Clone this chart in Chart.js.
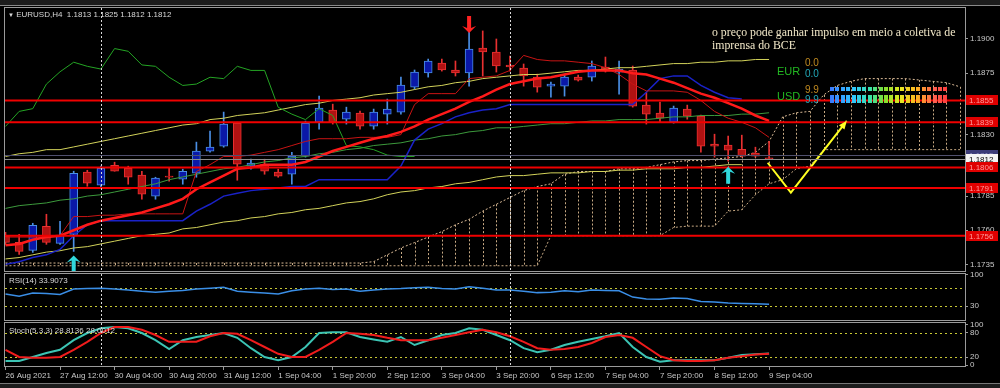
<!DOCTYPE html>
<html lang="pt">
<head>
<meta charset="UTF-8">
<title>EURUSD,H4</title>
<script src="https://cdn.jsdelivr.net/npm/chart.js"></script>
<style>
  html, body { margin: 0; padding: 0; background: #000; }
  body { width: 1000px; height: 388px; position: relative; overflow: hidden; font-family: "Liberation Sans", Arial, sans-serif; }
  canvas { position: absolute; left: 0; }
  #cMain { top: 0; }
  #cRsi { top: 272px; }
  #cStoch { top: 321px; }
  .txt { position: absolute; white-space: nowrap; color: #d8d8d8; font-size: 8px; line-height: 10px; }
  .note { position: absolute; left: 712px; color: #f2e8c8; font-family: "Liberation Serif", serif; font-size: 11.8px; line-height: 13px; white-space: nowrap; }
  .meter { position: absolute; font-size: 11px; line-height: 11px; white-space: nowrap; }
  .strength { position: absolute; left: 830px; width: 118px;
    background: linear-gradient(to right, #3a78ff, #30c8ff 20%, #38e0a8 34%, #80e030 46%, #e8e820 60%, #ffb020 74%, #ff6050 88%, #ff3a3a);
    -webkit-mask-image: repeating-linear-gradient(to right, #000 0 4px, transparent 4px 5.4px);
    mask-image: repeating-linear-gradient(to right, #000 0 4px, transparent 4px 5.4px); }
  #topStrip { position: absolute; left: 0; top: 0; width: 1000px; height: 5px; background: #1c1c1c; border-bottom: 1px solid #8a8a8a; }
  #botStrip { position: absolute; left: 0; top: 383px; width: 1000px; height: 5px; background: #1c1c1c; border-top: 1px solid #777; }
</style>
</head>
<body>
<div id="topStrip"></div>
<canvas id="cMain" width="1000" height="272"></canvas>
<canvas id="cRsi" width="1000" height="49"></canvas>
<canvas id="cStoch" width="1000" height="67"></canvas>
<div id="botStrip"></div>

<div class="txt" style="left:8px;top:10px"><span style="font-size:6px">▼</span> EURUSD,H4&nbsp; 1.1813 1.1825 1.1812 1.1812</div>
<div class="txt" style="left:9px;top:276px">RSI(14) 33.9073</div>
<div class="txt" style="left:9px;top:326px">Stoch(5,3,3) 28.8136 28.0012</div>

<div class="note" style="top:26px">o preço pode ganhar impulso em meio a coletiva de</div>
<div class="note" style="top:39px">imprensa do BCE</div>

<div class="meter" style="left:777px;top:66px;color:#22b822">EUR</div>
<div class="meter" style="left:805px;top:57px;color:#c08a20;font-size:10px">0.0</div>
<div class="meter" style="left:805px;top:68px;color:#22a8b8;font-size:10px">0.0</div>
<div class="meter" style="left:777px;top:91px;color:#22b822">USD</div>
<div class="meter" style="left:805px;top:84px;color:#c08a20;font-size:10px">9.9</div>
<div class="meter" style="left:805px;top:94px;color:#22a8b8;font-size:10px">9.9</div>
<div class="strength" style="top:87px;height:4px"></div>
<div class="strength" style="top:95px;height:8px"></div>

<script>
// ---- time axis (H4 bars, index 0 = 26 Aug 20:00) ----
const timeTickIdx = [0, 4, 8, 12, 16, 20, 24, 28, 32, 36, 40, 44, 48, 52, 56];
const timeLabels = ['26 Aug 2021', '27 Aug 12:00', '30 Aug 04:00', '30 Aug 20:00', '31 Aug 12:00',
  '1 Sep 04:00', '1 Sep 20:00', '2 Sep 12:00', '3 Sep 04:00', '3 Sep 20:00',
  '6 Sep 12:00', '7 Sep 04:00', '7 Sep 20:00', '8 Sep 12:00', '9 Sep 04:00'];

// ---- candles ----
const opens = [1.17555,1.17511,1.17453,1.17629,1.17504,1.17570,1.18025,1.17930,1.18076,1.18054,
  1.18003,1.17849,1.17996,1.17974,1.18017,1.18179,1.18215,1.18384,1.18069,1.18083,
  1.18025,1.18010,1.18142,1.18391,1.18479,1.18413,1.18457,1.18362,1.18450,1.18465,
  1.18648,1.18751,1.18824,1.18773,1.18751,1.18934,1.18905,1.18809,1.18787,1.18721,
  1.18655,1.18655,1.18721,1.18721,1.18795,1.18758,1.18773,1.18516,1.18457,1.18391,
  1.18487,1.18435,1.18230,1.18223,1.18193,1.18164,1.18130];
const highs = [1.17585,1.17570,1.17651,1.17717,1.17665,1.18032,1.18039,1.18069,1.18098,1.18069,
  1.18032,1.17988,1.18054,1.18047,1.18245,1.18325,1.18465,1.18391,1.18120,1.18120,
  1.18047,1.18171,1.18399,1.18582,1.18523,1.18501,1.18472,1.18487,1.18560,1.18721,
  1.18773,1.18853,1.18853,1.18839,1.19059,1.19059,1.19000,1.18875,1.18817,1.18743,
  1.18685,1.18743,1.18736,1.18839,1.18868,1.18839,1.18802,1.18611,1.18538,1.18509,
  1.18516,1.18443,1.18303,1.18289,1.18296,1.18208,1.18250];
const lows = [1.17497,1.17423,1.17438,1.17497,1.17497,1.17445,1.17922,1.17915,1.18032,1.17937,
  1.17827,1.17827,1.17959,1.17937,1.17988,1.18171,1.18208,1.17966,1.18047,1.18010,
  1.17988,1.17937,1.18135,1.18340,1.18377,1.18377,1.18340,1.18340,1.18377,1.18450,
  1.18633,1.18721,1.18765,1.18729,1.18655,1.18729,1.18758,1.18765,1.18655,1.18611,
  1.18575,1.18582,1.18692,1.18692,1.18758,1.18597,1.18501,1.18377,1.18391,1.18384,
  1.18413,1.18171,1.18135,1.18105,1.18135,1.18135,1.18120];
const closes = [1.17511,1.17445,1.17636,1.17511,1.17563,1.18017,1.17944,1.18054,1.18032,1.17988,
  1.17864,1.17981,1.17988,1.18032,1.18179,1.18208,1.18377,1.18083,1.18091,1.18032,
  1.17996,1.18142,1.18384,1.18494,1.18391,1.18465,1.18362,1.18465,1.18487,1.18663,
  1.18758,1.18839,1.18773,1.18751,1.18927,1.18905,1.18802,1.18795,1.18729,1.18648,
  1.18670,1.18721,1.18699,1.18802,1.18773,1.18780,1.18509,1.18450,1.18421,1.18494,
  1.18435,1.18215,1.18215,1.18186,1.18142,1.18142,1.18120];

// ---- indicator lines on price ----
const maRed = [1.1749,1.1750,1.1753,1.1755,1.1756,1.1760,1.1764,1.1767,1.1769,1.1771,
  1.1773,1.1776,1.1779,1.1783,1.1790,1.1795,1.1800,1.1805,1.1806,1.1808,
  1.1808,1.1808,1.1810,1.1814,1.1818,1.1821,1.1824,1.1827,1.1829,1.1832,
  1.1836,1.1841,1.1845,1.1849,1.1854,1.1858,1.1863,1.1867,1.1869,1.1871,
  1.1872,1.1874,1.1876,1.1877,1.1877,1.1877,1.1875,1.1874,1.1871,1.1868,
  1.1864,1.1860,1.1857,1.1853,1.1849,1.1844,1.1840];
const tenkan = [1.1755,1.1755,1.1755,1.1755,1.1756,1.1770,1.1770,1.1771,1.1771,1.1772,
  1.1772,1.1772,1.1772,1.1772,1.1803,1.1808,1.1814,1.1814,1.1815,1.1817,
  1.1819,1.1822,1.1825,1.1827,1.1827,1.1827,1.1828,1.1828,1.1828,1.1830,
  1.1852,1.1860,1.1860,1.1860,1.1871,1.1872,1.1873,1.1877,1.1888,1.1885,
  1.1884,1.1884,1.1883,1.1882,1.1879,1.1874,1.1867,1.1862,1.1862,1.1862,
  1.1861,1.1855,1.1847,1.1842,1.1839,1.1835,1.1828];
const kijun = [1.1735,1.1737,1.1740,1.1742,1.1746,1.1756,1.1764,1.1767,1.1767,1.1767,
  1.1767,1.1767,1.1767,1.1767,1.1774,1.1779,1.1785,1.1787,1.1789,1.1790,
  1.1791,1.1792,1.1792,1.1797,1.1797,1.1797,1.1797,1.1797,1.1797,1.1807,
  1.1826,1.1834,1.1838,1.1843,1.1846,1.1848,1.1849,1.1852,1.1852,1.1852,
  1.1852,1.1852,1.1852,1.1852,1.1852,1.1852,1.1852,1.1861,1.1871,1.1873,
  1.1873,1.1866,1.1861,1.1857,1.1856];
const chikou = [1.1836,1.1847,1.1849,1.1867,1.1876,1.1883,1.1880,1.1878,1.1893,1.1891,
  1.1881,1.1880,1.1872,1.1866,1.1867,1.1872,1.1871,1.1880,1.1877,1.1877,
  1.1850,1.1845,1.1841,1.1849,1.1844,1.1822,1.1821,1.1819,1.1815,1.1814,1.1814];
const yellowUpper = [1.1814,1.1816,1.1817,1.1819,1.1819,1.1821,1.1823,1.1825,1.1827,1.1829,
  1.1831,1.1833,1.1835,1.1837,1.1838,1.1841,1.1842,1.1844,1.1845,1.1846,
  1.1848,1.1850,1.1852,1.1853,1.1855,1.1856,1.1857,1.1859,1.1860,1.1861,
  1.1863,1.1865,1.1866,1.1868,1.1869,1.1871,1.1872,1.1873,1.1874,1.1874,
  1.1875,1.1876,1.1877,1.1877,1.1878,1.1879,1.1879,1.1880,1.1881,1.1882,
  1.1882,1.1883,1.1883,1.1884,1.1884,1.1885,1.1885];
const yellowLower = [1.1739,1.1740,1.1742,1.1744,1.1745,1.1747,1.1748,1.1750,1.1752,1.1754,
  1.1756,1.1757,1.1758,1.1761,1.1762,1.1764,1.1766,1.1767,1.1769,1.1770,
  1.1772,1.1773,1.1775,1.1776,1.1778,1.1780,1.1781,1.1783,1.1786,1.1788,
  1.1789,1.1791,1.1792,1.1794,1.1795,1.1797,1.1799,1.1800,1.1800,1.1801,
  1.1802,1.1802,1.1802,1.1803,1.1803,1.1804,1.1804,1.1805,1.1805,1.1805,
  1.1806,1.1806,1.1807,1.1808,1.1808];
const greenMa = [1.1776,1.1778,1.1779,1.1780,1.1782,1.1783,1.1785,1.1786,1.1788,1.1790,
  1.1792,1.1794,1.1797,1.1799,1.1801,1.1803,1.1805,1.1806,1.1808,1.1810,
  1.1811,1.1813,1.1814,1.1816,1.1817,1.1819,1.1820,1.1822,1.1823,1.1824,
  1.1826,1.1827,1.1829,1.1830,1.1832,1.1833,1.1835,1.1835,1.1836,1.1837,
  1.1838,1.1838,1.1839,1.1840,1.1840,1.1841,1.1841,1.1841,1.1842,1.1843,
  1.1843,1.1844,1.1844,1.1844,1.1845,1.1845,1.1846];

// ---- ichimoku cloud (index 0..70) ----
const spanA = [1.1736,1.1736,1.1736,1.1736,1.1736,1.1736,1.1736,1.1736,1.1736,1.1736,
  1.1736,1.1736,1.1736,1.1736,1.1736,1.1736,1.1736,1.1736,1.1736,1.1736,
  1.1736,1.1736,1.1736,1.1736,1.1736,1.1736,1.1736,1.1737,1.1742,1.1747,
  1.1751,1.1755,1.1759,1.1764,1.1768,1.1774,1.1779,1.1784,1.1789,1.1792,
  1.1794,1.1801,1.1803,1.1803,1.1803,1.1805,1.1805,1.1806,1.1808,1.1810,
  1.1811,1.1811,1.1812,1.1813,1.1814,1.1817,1.1825,1.1843,1.1846,1.1847,
  1.1859,1.1866,1.1869,1.1871,1.1871,1.1871,1.1871,1.1870,1.1869,1.1868,1.1865];
const spanB = [1.1734,1.1734,1.1734,1.1734,1.1734,1.1734,1.1734,1.1734,1.1734,1.1734,
  1.1734,1.1734,1.1734,1.1734,1.1734,1.1734,1.1734,1.1734,1.1734,1.1734,
  1.1734,1.1734,1.1734,1.1734,1.1734,1.1734,1.1734,1.1734,1.1734,1.1734,
  1.1734,1.1734,1.1734,1.1734,1.1734,1.1734,1.1734,1.1734,1.1734,1.1734,
  1.1756,1.1756,1.1756,1.1756,1.1756,1.1756,1.1756,1.1756,1.1756,1.1762,
  1.1763,1.1763,1.1763,1.1774,1.1775,1.1786,1.1794,1.1797,1.1805,1.1807,
  1.1819,1.1819,1.1819,1.1819,1.1819,1.1819,1.1819,1.1819,1.1819,1.1819,1.1819];

// ---- objects ----
const priceTicks = [1.1900, 1.1875, 1.1830, 1.1785, 1.1760, 1.1735];
const levels = [1.1855, 1.1839, 1.1806, 1.1791, 1.1756];
const quoteLevels = [1.1815, 1.1812];
const separatorIdx = [7, 37];
const upArrowIdx = [5, 53];
const upArrowPrice = [1.17415, 1.18065];
const downArrowIdx = [34];
const downArrowPrice = [1.19043];
const zigIdx = [55.9, 57.6, 61.7];
const zigPrice = [1.18094, 1.17875, 1.18401];

// ---- oscillators ----
const rsi = [57,52,59,58,56,68,69,70,68,66, 63,61,63,65,68,70,72,63,61,59,
  57,64,68,70,67,68,63,66,68,69, 71,72,69,68,73,70,66,66,63,60,
  61,64,62,66,65,64,50,46,45,48, 47,40,39,37,36,35,33.9073];
const rsiLevels = [70, 30];
const stochMain = [10,10,20,30,38,62,80,92,95,92, 80,62,40,62,70,75,80,68,42,20,
  12,20,45,80,82,82,70,64,58,70, 50,62,75,80,92,88,75,62,42,32,
  38,50,58,65,72,80,45,20,8,12, 12,12,12,18,25,27,28.8136];
const stochSignal = [38,20,18,18,20,38,58,80,95,95, 88,75,58,58,58,72,80,78,62,45,
  28,20,20,38,58,80,78,75,68,62, 62,62,68,75,82,88,82,72,58,42,
  38,40,45,55,70,75,68,45,22,12, 10,10,12,18,22,26,28.0012];
const stochLevels = [80, 20];

// ---- layout / style ----
const X_MIN = -0.037, X_MAX = 70.37;
const AXIS_W = 35;
const FONT = { family: 'Liberation Sans, Arial, sans-serif', size: 8 };
const TXT = '#c8c8c8';
const FRAME = '#9a9a9a';

const pts = (arr) => arr.map((v, i) => ({ x: i, y: v }));

function xAxis(show) {
  return {
    type: 'linear', min: X_MIN, max: X_MAX, display: show, offset: false,
    afterBuildTicks: s => { s.ticks = timeTickIdx.map(v => ({ value: v })); },
    ticks: { autoSkip: false, maxRotation: 0, align: 'start', padding: 1, color: TXT, font: FONT,
      callback: v => timeLabels[timeTickIdx.indexOf(v)] },
    grid: { display: true, drawOnChartArea: false, drawTicks: true, tickLength: 4, color: FRAME },
    border: { display: true, color: FRAME },
    afterFit: s => { s.height = show ? 22 : 0; s.paddingLeft = 0; s.paddingRight = 0; }
  };
}
function yAxis(min, max, tickVals, fmt) {
  return {
    position: 'right', min, max,
    afterBuildTicks: s => { s.ticks = tickVals.map(v => ({ value: v })); },
    ticks: { color: TXT, font: FONT, padding: 2, callback: fmt },
    grid: { display: true, drawOnChartArea: false, drawTicks: true, tickLength: 3, color: FRAME },
    border: { display: true, color: FRAME },
    afterFit: s => { s.width = AXIS_W; s.paddingTop = 0; s.paddingBottom = 0; }
  };
}

// frame around plot area
const framePlugin = {
  id: 'frame',
  afterDraw(chart) {
    const { ctx, chartArea: a } = chart;
    ctx.save();
    ctx.strokeStyle = FRAME; ctx.lineWidth = 1;
    ctx.strokeRect(a.left - 0.5, a.top - 0.5, a.right - a.left + 1, a.bottom - a.top + 1);
    ctx.restore();
  }
};
// vertical dotted separators
const sepPlugin = {
  id: 'sep',
  afterDatasetsDraw(chart) {
    const { ctx, chartArea: a, scales: { x } } = chart;
    ctx.save();
    ctx.strokeStyle = '#d8d8d8'; ctx.lineWidth = 1; ctx.setLineDash([2, 2]);
    separatorIdx.forEach(i => {
      const px = Math.round(x.getPixelForValue(i)) + 0.5;
      ctx.beginPath(); ctx.moveTo(px, a.top); ctx.lineTo(px, a.bottom); ctx.stroke();
    });
    ctx.restore();
  }
};
// dotted horizontal levels in oscillator panes
function oscLevels(vals) {
  return {
    id: 'osc',
    beforeDatasetsDraw(chart) {
      const { ctx, chartArea: a, scales: { y } } = chart;
      ctx.save();
      ctx.strokeStyle = '#c8c834'; ctx.lineWidth = 1; ctx.setLineDash([2, 3]);
      vals.forEach(v => {
        const py = Math.round(y.getPixelForValue(v)) + 0.5;
        ctx.beginPath(); ctx.moveTo(a.left, py); ctx.lineTo(a.right, py); ctx.stroke();
      });
      ctx.restore();
    }
  };
}
// ichimoku hatch
const cloudPlugin = {
  id: 'cloud',
  beforeDatasetsDraw(chart) {
    const { ctx, chartArea: a, scales: { x, y } } = chart;
    ctx.save();
    ctx.beginPath(); ctx.rect(a.left, a.top, a.right - a.left, a.bottom - a.top); ctx.clip();
    ctx.strokeStyle = '#c8aa84'; ctx.lineWidth = 1; ctx.setLineDash([2, 2]);
    spanA.forEach((v, i) => {
      const px = Math.round(x.getPixelForValue(i)) + 0.5;
      ctx.beginPath(); ctx.moveTo(px, y.getPixelForValue(v)); ctx.lineTo(px, y.getPixelForValue(spanB[i])); ctx.stroke();
    });
    ctx.restore();
  }
};
// arrows (MT4 style)
function arrow(ctx, px, py, dir, color) {
  const d = dir === 'up' ? 1 : -1;
  ctx.fillStyle = color;
  ctx.beginPath();
  ctx.moveTo(px, py);
  ctx.lineTo(px + 7, py + 7 * d);
  ctx.lineTo(px + 2, py + 5 * d);
  ctx.lineTo(px + 2, py + 17 * d);
  ctx.lineTo(px - 2, py + 17 * d);
  ctx.lineTo(px - 2, py + 5 * d);
  ctx.lineTo(px - 7, py + 7 * d);
  ctx.closePath(); ctx.fill();
}
const objPlugin = {
  id: 'objects',
  afterDatasetsDraw(chart) {
    const { ctx, chartArea: a, scales: { x, y } } = chart;
    ctx.save();
    quoteLevels.forEach((v, k) => {
      const py = Math.round(y.getPixelForValue(v)) + 0.5;
      ctx.strokeStyle = k === 0 ? '#50506e' : '#8c8c8c'; ctx.lineWidth = 1;
      ctx.beginPath(); ctx.moveTo(a.left, py); ctx.lineTo(a.right, py); ctx.stroke();
    });
    levels.forEach(v => {
      const py = y.getPixelForValue(v);
      ctx.strokeStyle = '#f00000'; ctx.lineWidth = 2;
      ctx.beginPath(); ctx.moveTo(a.left, py); ctx.lineTo(a.right, py); ctx.stroke();
    });
    upArrowIdx.forEach((i, k) => arrow(ctx, x.getPixelForValue(i), y.getPixelForValue(upArrowPrice[k]), 'up', '#30d8dc'));
    downArrowIdx.forEach((i, k) => arrow(ctx, x.getPixelForValue(i), y.getPixelForValue(downArrowPrice[k]), 'down', '#ff2222'));
    // zigzag arrow head
    const n = zigIdx.length;
    const x1 = x.getPixelForValue(zigIdx[n - 2]), y1 = y.getPixelForValue(zigPrice[n - 2]);
    const x2 = x.getPixelForValue(zigIdx[n - 1]), y2 = y.getPixelForValue(zigPrice[n - 1]);
    const ang = Math.atan2(y2 - y1, x2 - x1);
    ctx.fillStyle = '#ffff22';
    ctx.beginPath();
    ctx.moveTo(x2, y2);
    ctx.lineTo(x2 - 9 * Math.cos(ang - 0.4), y2 - 9 * Math.sin(ang - 0.4));
    ctx.lineTo(x2 - 9 * Math.cos(ang + 0.4), y2 - 9 * Math.sin(ang + 0.4));
    ctx.closePath(); ctx.fill();
    ctx.restore();
  },
  afterDraw(chart) {
    const { ctx, chartArea: a, scales: { y } } = chart;
    ctx.save();
    ctx.font = '8px ' + FONT.family; ctx.textBaseline = 'middle';
    const box = (v, bg, fg) => {
      const py = Math.round(y.getPixelForValue(v));
      ctx.fillStyle = bg; ctx.fillRect(a.right + 1, py - 5, 32, 10);
      ctx.fillStyle = fg; ctx.fillText(v.toFixed(4), a.right + 4, py + 0.5);
    };
    box(quoteLevels[0], '#3c3c78', '#9090c0');
    box(quoteLevels[1], '#f4f4f4', '#000000');
    levels.forEach(v => box(v, '#e00000', '#ff9c9c'));
    ctx.restore();
  }
};

const common = {
  responsive: false, animation: false, events: [],
  plugins: { legend: { display: false }, tooltip: { enabled: false } }
};
const bull = (i) => closes[i] >= opens[i];

new Chart(document.getElementById('cMain'), {
  type: 'bar',
  data: {
    datasets: [
      { type: 'line', data: zigIdx.map((v, i) => ({ x: v, y: zigPrice[i] })),
        borderColor: '#ffff22', borderWidth: 2, pointRadius: 0, order: 0 },
      { type: 'line', data: pts(maRed), borderColor: '#ff1a1a', borderWidth: 2.5, pointRadius: 0, order: 1 },
      { type: 'line', data: pts(tenkan), borderColor: '#c81414', borderWidth: 1, pointRadius: 0, order: 2 },
      { type: 'line', data: pts(kijun), borderColor: '#1a22c8', borderWidth: 1.5, pointRadius: 0, order: 2 },
      { type: 'line', data: pts(chikou), borderColor: '#24a424', borderWidth: 1, pointRadius: 0, order: 2 },
      { type: 'line', data: pts(greenMa), borderColor: '#3c9a3c', borderWidth: 1, pointRadius: 0, order: 3 },
      { type: 'line', data: pts(yellowUpper), borderColor: '#d2d25a', borderWidth: 1, pointRadius: 0, order: 3 },
      { type: 'line', data: pts(yellowLower), borderColor: '#d2d25a', borderWidth: 1, pointRadius: 0, order: 3 },
      { type: 'line', data: pts(spanA), borderColor: '#dcbc98', borderWidth: 1, borderDash: [2, 2], pointRadius: 0, order: 20 },
      { type: 'line', data: pts(spanB), borderColor: '#c8aa84', borderWidth: 1, borderDash: [2, 2], pointRadius: 0, order: 20 },
      { type: 'bar', data: opens.map((o, i) => ({ x: i, y: [Math.min(o, closes[i]), Math.max(o, closes[i])] })),
        barThickness: 8, minBarLength: 1, grouped: false, borderWidth: 1, borderSkipped: false,
        backgroundColor: c => bull(c.dataIndex) ? '#0a18a8' : '#b01212',
        borderColor: c => bull(c.dataIndex) ? '#4a8ee4' : '#e83030', order: 10 },
      { type: 'bar', data: opens.map((o, i) => ({ x: i, y: [lows[i], highs[i]] })),
        barThickness: 1, grouped: false, borderWidth: 0,
        backgroundColor: c => bull(c.dataIndex) ? '#4a8ee4' : '#e83030', order: 11 }
    ]
  },
  options: Object.assign({}, common, {
    layout: { padding: { left: 5, top: 8, right: 0, bottom: 1 } },
    scales: {
      x: xAxis(false),
      y: yAxis(1.173016, 1.192269, priceTicks, v => v.toFixed(4))
    }
  }),
  plugins: [cloudPlugin, objPlugin, sepPlugin, framePlugin]
});

new Chart(document.getElementById('cRsi'), {
  type: 'line',
  data: { datasets: [{ data: pts(rsi), borderColor: '#3a8ee6', borderWidth: 1.5, pointRadius: 0 }] },
  options: Object.assign({}, common, {
    layout: { padding: { left: 5, top: 2, right: 0, bottom: 1 } },
    scales: { x: xAxis(false), y: yAxis(-1, 101.5, [100, 70, 30, 0], v => String(v)) }
  }),
  plugins: [oscLevels(rsiLevels), sepPlugin, framePlugin]
});

new Chart(document.getElementById('cStoch'), {
  type: 'line',
  data: { datasets: [
    { data: pts(stochSignal), borderColor: '#f01c1c', borderWidth: 2, pointRadius: 0 },
    { data: pts(stochMain), borderColor: '#3cc4b4', borderWidth: 2, pointRadius: 0 }
  ] },
  options: Object.assign({}, common, {
    layout: { padding: { left: 5, top: 2, right: 0, bottom: 0 } },
    scales: { x: xAxis(true), y: yAxis(-2.5, 105, [100, 80, 20, 0], v => String(v)) }
  }),
  plugins: [oscLevels(stochLevels), sepPlugin, framePlugin]
});
</script>
</body>
</html>
